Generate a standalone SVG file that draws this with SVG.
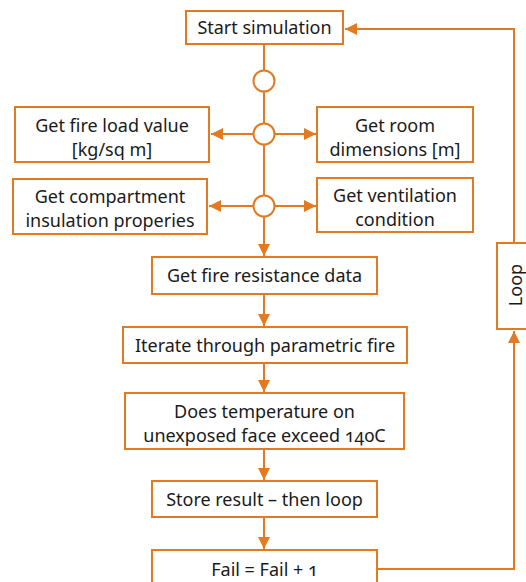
<svg xmlns="http://www.w3.org/2000/svg" width="526" height="582" viewBox="0 0 526 582">
  <style>
    .box { fill: #ffffff; stroke: #E37A22; stroke-width: 2; }
    .line { fill: none; stroke: #E37A22; stroke-width: 2; }
    .hub { fill: #ffffff; stroke: #E37A22; stroke-width: 2; }
    .label { font-family: "Noto Sans", "Open Sans", sans-serif; font-size: 18px; fill: #1a1a1a; text-anchor: middle; font-feature-settings: "onum" 1; }
  </style>
  <defs>
    <marker id="arrow" viewBox="0 0 12 12" refX="12" refY="6" markerWidth="12" markerHeight="12" markerUnits="userSpaceOnUse" orient="auto">
      <path d="M0,0 L12,6 L0,12 Z" fill="#E37A22"/>
    </marker>
  </defs>
  <rect width="526" height="582" fill="#ffffff"/>

  <g id="connectors">
    <!-- main spine -->
    <line class="line" x1="264" y1="44" x2="264" y2="256" marker-end="url(#arrow)"/>
    <!-- branches from hubs -->
    <line class="line" x1="264" y1="134" x2="211" y2="134" marker-end="url(#arrow)"/>
    <line class="line" x1="264" y1="134" x2="316" y2="134" marker-end="url(#arrow)"/>
    <line class="line" x1="264" y1="206" x2="209" y2="206" marker-end="url(#arrow)"/>
    <line class="line" x1="264" y1="206" x2="316" y2="206" marker-end="url(#arrow)"/>
    <!-- sequential steps -->
    <line class="line" x1="264" y1="294" x2="264" y2="326" marker-end="url(#arrow)"/>
    <line class="line" x1="264" y1="363" x2="264" y2="392" marker-end="url(#arrow)"/>
    <line class="line" x1="264" y1="449" x2="264" y2="480" marker-end="url(#arrow)"/>
    <line class="line" x1="264" y1="517" x2="264" y2="549" marker-end="url(#arrow)"/>
    <!-- loop back -->
    <polyline class="line" points="377,569 514,569 514,331" marker-end="url(#arrow)"/>
    <polyline class="line" points="514,243 514,29 345,29" marker-end="url(#arrow)"/>
  </g>

  <g id="hub1"><circle class="hub" cx="264" cy="81" r="10.5"/></g>
  <g id="hub2"><circle class="hub" cx="264" cy="134" r="10.5"/></g>
  <g id="hub3"><circle class="hub" cx="264" cy="206" r="10.5"/></g>

  <g id="start">
    <rect class="box" x="186" y="11" width="157" height="33"/>
    <text class="label" x="264.5" y="34">Start simulation</text>
  </g>
  <g id="fire-load">
    <rect class="box" x="15" y="107" width="194" height="55"/>
    <text class="label" x="112" y="132">Get fire load value</text>
    <text class="label" x="112" y="156">[kg/sq m]</text>
  </g>
  <g id="room">
    <rect class="box" x="317" y="107" width="156" height="55"/>
    <text class="label" x="395" y="132">Get room</text>
    <text class="label" x="395" y="156">dimensions [m]</text>
  </g>
  <g id="compartment">
    <rect class="box" x="13" y="179" width="194" height="55"/>
    <text class="label" x="110" y="203">Get compartment</text>
    <text class="label" x="110" y="227">insulation properies</text>
  </g>
  <g id="ventilation">
    <rect class="box" x="317" y="178" width="156" height="54"/>
    <text class="label" x="395" y="202">Get ventilation</text>
    <text class="label" x="395" y="226">condition</text>
  </g>
  <g id="fire-resistance">
    <rect class="box" x="152" y="257" width="225" height="37"/>
    <text class="label" x="264.5" y="282">Get fire resistance data</text>
  </g>
  <g id="iterate">
    <rect class="box" x="123" y="327" width="284" height="36"/>
    <text class="label" x="265" y="352">Iterate through parametric fire</text>
  </g>
  <g id="temperature">
    <rect class="box" x="125" y="393" width="279" height="56"/>
    <text class="label" x="264.5" y="418">Does temperature on</text>
    <text class="label" x="264.5" y="442">unexposed face exceed 140C</text>
  </g>
  <g id="store">
    <rect class="box" x="152" y="481" width="225" height="36"/>
    <text class="label" x="264.5" y="506">Store result – then loop</text>
  </g>
  <g id="fail">
    <rect class="box" x="152" y="550" width="225" height="45"/>
    <text class="label" x="264.5" y="576">Fail = Fail + 1</text>
  </g>
  <g id="loop">
    <rect class="box" x="497" y="243" width="40" height="86"/>
    <text class="label" transform="translate(522,285) rotate(-90)" x="0" y="0">Loop</text>
  </g>
</svg>
